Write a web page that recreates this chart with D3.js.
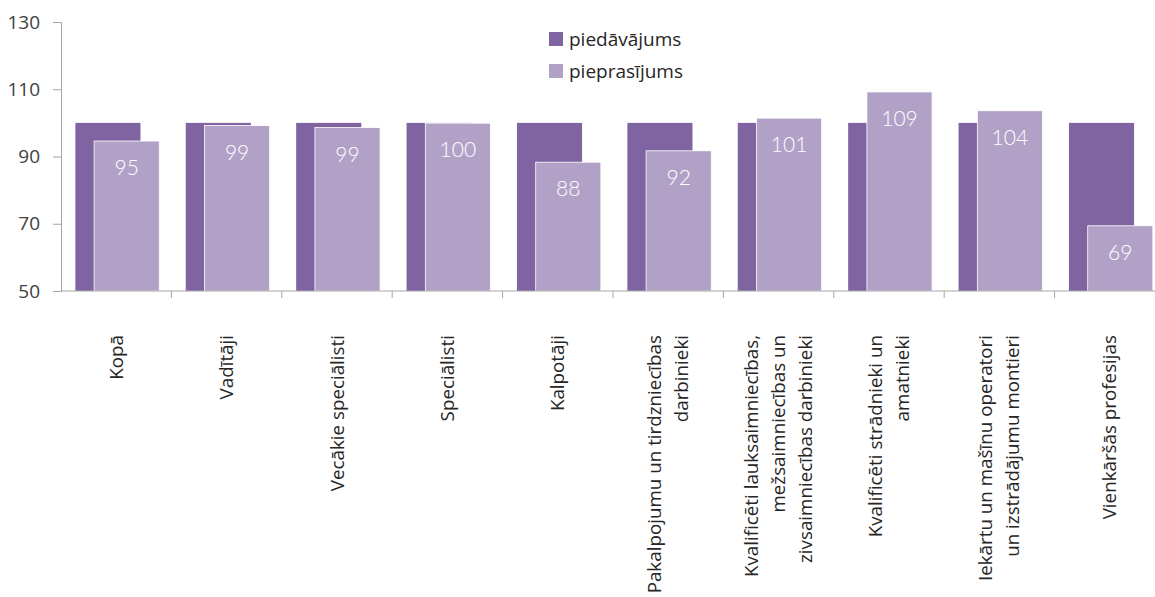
<!DOCTYPE html>
<html>
<head>
<meta charset="utf-8">
<script src="https://cdn.jsdelivr.net/npm/d3@7"></script>
<style>
  body { margin: 0; background: #fff; }
  svg { display: block; font-family: "Open Sans", "Noto Sans", sans-serif; }
</style>
</head>
<body>
<svg id="chart" width="1155" height="597"></svg>
<script>
const categories = [
  ["Kopā"],
  ["Vadītāji"],
  ["Vecākie speciālisti"],
  ["Speciālisti"],
  ["Kalpotāji"],
  ["Pakalpojumu un tirdzniecības", "darbinieki"],
  ["Kvalificēti lauksaimniecības,", "mežsaimniecības un", "zivsaimniecības darbinieki"],
  ["Kvalificēti strādnieki un", "amatnieki"],
  ["Iekārtu un mašīnu operatori", "un izstrādājumu montieri"],
  ["Vienkāršās profesijas"]
];
const supply = [100, 100, 100, 100, 100, 100, 100, 100, 100, 100];
const demand = [94.6, 99.2, 98.6, 99.9, 88.3, 91.7, 101.4, 109.2, 103.6, 69.4];
const seriesNames = ["piedāvājums", "pieprasījums"];
const yTicks = [50, 70, 90, 110, 130];

const colors = ["#8064a2", "#b2a1c7"];
const svg = d3.select("#chart");
const x = d3.scaleBand().domain(d3.range(categories.length)).range([61, 1165]).padding(0);
const y = d3.scaleLinear().domain([50, 130]).range([291, 22]);
const bw = x.bandwidth();
const barW = bw * 0.59;

// bars: supply
svg.append("g").selectAll("rect").data(supply).join("rect")
  .attr("x", (d, i) => x(i) + bw * 0.13)
  .attr("y", d => y(d))
  .attr("width", barW)
  .attr("height", d => y(50) - y(d))
  .attr("fill", colors[0]);

// bars: demand
svg.append("g").selectAll("rect").data(demand).join("rect")
  .attr("x", (d, i) => x(i) + bw * 0.30)
  .attr("y", d => y(d))
  .attr("width", barW)
  .attr("height", d => y(50) - y(d))
  .attr("fill", colors[1])
  .attr("stroke", "#ffffff")
  .attr("stroke-width", 0.8);

// value labels
svg.append("g").selectAll("text").data(demand).join("text")
  .attr("x", (d, i) => x(i) + bw * 0.30 + barW / 2)
  .attr("y", d => y(d) + 34)
  .attr("text-anchor", "middle")
  .attr("fill", "#ffffff")
  .attr("font-size", 21)
  .attr("font-family", "Lato, 'Open Sans', sans-serif")
  .attr("font-weight", 300)
  .text(d => d3.format(".0f")(d));

// y axis
const axisColor = "#a6a6a6";
const yAxis = svg.append("g").attr("transform", "translate(61,0)")
  .call(d3.axisLeft(y).tickValues(yTicks).tickSize(8).tickPadding(13));
yAxis.select(".domain").attr("stroke", axisColor);
yAxis.selectAll(".tick line").attr("stroke", axisColor);
yAxis.selectAll(".tick text").attr("fill", "#404040").attr("font-size", 19)
  .attr("font-family", "'Open Sans', sans-serif");

// x axis
svg.append("line").attr("x1", 61).attr("x2", 1155).attr("y1", y(50)).attr("y2", y(50))
  .attr("stroke", axisColor);
svg.append("g").selectAll("line").data(d3.range(1, categories.length)).join("line")
  .attr("x1", d => x(d)).attr("x2", d => x(d))
  .attr("y1", y(50)).attr("y2", y(50) + 7)
  .attr("stroke", axisColor);

// x labels
const lineH = 27;
const lab = svg.append("g").selectAll("text").data(categories).join("text")
  .attr("transform", (d, i) => `translate(${x(i) + bw / 2},335) rotate(-90)`)
  .attr("text-anchor", "end")
  .attr("fill", "#262626")
  .attr("font-size", 18.8);
lab.each(function(lines) {
  const t = d3.select(this);
  const n = lines.length;
  lines.forEach((l, k) => {
    t.append("tspan").attr("x", 0)
      .attr("y", (k - (n - 1) / 2) * lineH)
      .attr("dy", "0.35em")
      .text(l);
  });
});

// legend
const leg = svg.append("g").selectAll("g").data(seriesNames).join("g")
  .attr("transform", (d, i) => `translate(549,${32 + i * 32})`);
leg.append("rect").attr("width", 14).attr("height", 14).attr("fill", (d, i) => colors[i]);
leg.append("text").attr("x", 20).attr("y", 7).attr("dy", "0.35em")
  .attr("font-size", 19).attr("fill", "#262626").text(d => d);
</script>
</body>
</html>
